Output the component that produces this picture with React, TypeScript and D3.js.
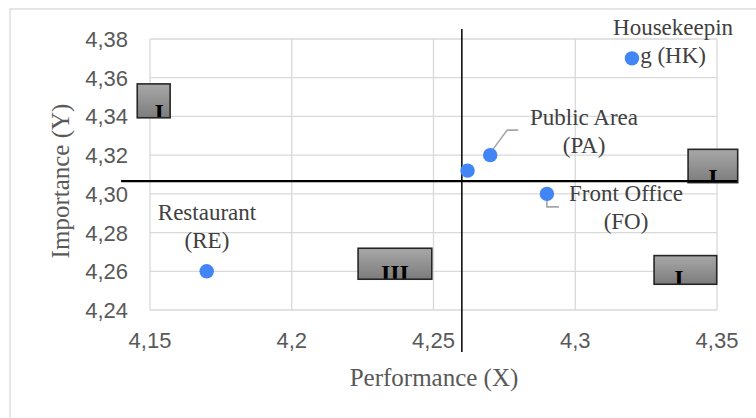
import React from "react";
import * as d3 from "d3";

const pointNames = ["Restaurant", "Mean", "Public Area", "Front Office", "Housekeeping"];
const perfValues = [4.17, 4.262, 4.27, 4.29, 4.32];
const impValues = [4.26, 4.312, 4.32, 4.3, 4.37];

const xTicks = [4.15, 4.2, 4.25, 4.3, 4.35];
const xTickLabels = ["4,15", "4,2", "4,25", "4,3", "4,35"];
const yTicks = [4.24, 4.26, 4.28, 4.3, 4.32, 4.34, 4.36, 4.38];
const yTickLabels = ["4,24", "4,26", "4,28", "4,30", "4,32", "4,34", "4,36", "4,38"];

// data labels: lines of text, anchor (data coords of first baseline, centred)
const labelLines = [
  ["Restaurant", "(RE)"],
  ["Public Area", "(PA)"],
  ["Front Office", "(FO)"],
  ["Housekeepin", "g (HK)"],
];
const labelX = [4.1701, 4.3031, 4.3179, 4.3345];
const labelY = [4.2865, 4.3356, 4.2961, 4.3821];

// quadrant boxes [x0, x1, yTop, yBottom] in data units, with numeral
const boxX0 = [4.1455, 4.2234, 4.3398, 4.3278];
const boxX1 = [4.1571, 4.2494, 4.3573, 4.3499];
const boxYTop = [4.3568, 4.2719, 4.323, 4.2681];
const boxYBottom = [4.3393, 4.2559, 4.3058, 4.2533];
const boxText = ["I", "III", "I", "I"];
const boxTextX = [4.1532, 4.2364, 4.3486, 4.3366];

const vLineX = 4.26;
const vLineY = [4.2183, 4.3852];
const hLineY = 4.3066;
const hLineX = [4.1398, 4.3571];

export default function App() {
  const W = 756, H = 418;
  const x = d3.scaleLinear().domain([4.15, 4.35]).range([150, 717]);
  const y = d3.scaleLinear().domain([4.24, 4.38]).range([310, 39]);
  const grid = "#d9d9d9";
  const serif = "'Liberation Serif', 'Times New Roman', serif";
  const sans = "'Liberation Sans', Arial, sans-serif";

  const pa = { x: x(perfValues[2]), y: y(impValues[2]) };
  const fo = { x: x(perfValues[3]), y: y(impValues[3]) };

  return (
    <svg width={W} height={H} style={{ position: "absolute", left: 0, top: 0 }}>
      <defs>
        <linearGradient id="boxg" x1="0" y1="0" x2="0" y2="1">
          <stop offset="0" stopColor="#a8a8a8" />
          <stop offset="1" stopColor="#7c7c7c" />
        </linearGradient>
        {boxX0.map((b, i) => (
          <clipPath id={`bc${i}`} key={i}>
            <rect x={x(boxX0[i])} y={y(boxYTop[i])} width={x(boxX1[i]) - x(boxX0[i])} height={y(boxYBottom[i]) - y(boxYTop[i])} />
          </clipPath>
        ))}
      </defs>
      <rect x={0} y={0} width={W} height={H} fill="#fff" />
      <rect x={10} y={9} width={W + 20} height={H + 20} fill="#fff" stroke={grid} strokeWidth={1.3} />
      {/* grid */}
      {yTicks.map((t) => (
        <line key={"gy" + t} x1={x(4.15)} x2={x(4.35)} y1={y(t)} y2={y(t)} stroke={grid} strokeWidth={1.3} />
      ))}
      {xTicks.map((t) => (
        <line key={"gx" + t} x1={x(t)} x2={x(t)} y1={y(4.24)} y2={y(4.38)} stroke={grid} strokeWidth={1.3} />
      ))}
      {/* tick labels */}
      {yTicks.map((t, i) => (
        <text key={"ly" + t} x={128} y={y(t) + 8} textAnchor="end" fontFamily={sans} fontSize={22} fill="#595959">
          {yTickLabels[i]}
        </text>
      ))}
      {xTicks.map((t, i) => (
        <text key={"lx" + t} x={x(t)} y={348} textAnchor="middle" fontFamily={sans} fontSize={22} fill="#595959">
          {xTickLabels[i]}
        </text>
      ))}
      {/* axis titles */}
      <text x={434} y={386} textAnchor="middle" fontFamily={serif} fontSize={25} fill="#595959">
        Performance (X)
      </text>
      <text transform="translate(69,181) rotate(-90)" textAnchor="middle" fontFamily={serif} fontSize={25} fill="#595959">
        Importance (Y)
      </text>
      {/* boxes */}
      {boxX0.map((b, i) => {
        const bx = x(boxX0[i]);
        const by = y(boxYTop[i]);
        const bw = x(boxX1[i]) - bx;
        const bh = y(boxYBottom[i]) - by;
        return (
          <g key={"box" + i}>
            <rect x={bx} y={by} width={bw} height={bh} fill="url(#boxg)" />
            <g clipPath={`url(#bc${i})`}>
              <text x={x(boxTextX[i])} y={by + bh + 2} textAnchor="middle" fontFamily={serif} fontWeight="bold" fontSize={24} fill="#000">
                {boxText[i]}
              </text>
            </g>
            <rect x={bx} y={by} width={bw} height={bh} fill="none" stroke="#262626" strokeWidth={1.6} />
          </g>
        );
      })}
      {/* quadrant lines */}
      <line x1={x(vLineX)} x2={x(vLineX)} y1={y(vLineY[0])} y2={y(vLineY[1])} stroke="#000" strokeWidth={1.5} />
      <line x1={x(hLineX[0])} x2={x(hLineX[1])} y1={y(hLineY)} y2={y(hLineY)} stroke="#000" strokeWidth={2.2} />
      {/* leader lines */}
      <polyline points={`${pa.x},${pa.y - 2} ${pa.x + 17},${pa.y - 25} ${pa.x + 28},${pa.y - 25}`} fill="none" stroke="#a6a6a6" strokeWidth={1.6} />
      <polyline points={`${fo.x},${fo.y} ${fo.x},${fo.y + 13} ${fo.x + 12},${fo.y + 13}`} fill="none" stroke="#a6a6a6" strokeWidth={1.6} />
      {/* points */}
      {perfValues.map((v, i) => (
        <circle key={pointNames[i]} cx={x(v)} cy={y(impValues[i])} r={7.2} fill="#4285f4" />
      ))}
      {/* labels */}
      {labelLines.map((lines, i) => (
        <text key={"lab" + i} x={x(labelX[i])} y={y(labelY[i])} textAnchor="middle" fontFamily={serif} fontSize={23} fill="#404040">
          {lines.map((l, j) => (
            <tspan key={j} x={x(labelX[i])} dy={j === 0 ? 0 : 28}>
              {l}
            </tspan>
          ))}
        </text>
      ))}
    </svg>
  );
}
